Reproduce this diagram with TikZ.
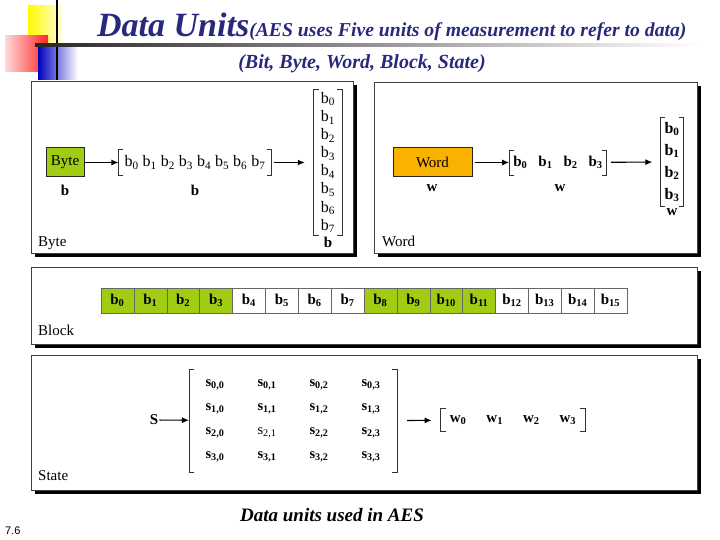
\documentclass[tikz,border=0pt]{standalone}
\usepackage{fontspec}
\setmainfont{Liberation Serif}
\newfontfamily\pagefont{Liberation Sans}
\usetikzlibrary{arrows.meta,positioning,shadows,matrix}
\definecolor{titleblue}{RGB}{40,40,125}
\definecolor{bytegreen}{RGB}{160,204,20}
\definecolor{wordorange}{RGB}{250,178,0}
\newcommand{\bb}[1]{b\textsubscript{#1}}
\newcommand{\ww}[1]{w\textsubscript{#1}}
\newcommand{\sij}[2]{\textbf{s\textsubscript{#1,#2}}}
\newcommand{\brk}[1]{%
  \draw[brkline] ([xshift=5pt]#1.north west) -| (#1.south west) -- ([xshift=5pt]#1.south west);
  \draw[brkline] ([xshift=-5pt]#1.north east) -| (#1.south east) -- ([xshift=-5pt]#1.south east);}

\tikzset{
  panel/.style={draw=black!75, line width=0.6pt, fill=white, inner sep=0pt,
    drop shadow={fill=black, opacity=1, shadow xshift=4pt, shadow yshift=-4pt}},
  box/.style={draw=black!85, line width=1pt, minimum height=29pt, inner sep=0pt,
    font=\fontsize{15}{16}\selectfont},
  lbl/.style={font=\fontsize{15}{16}\selectfont, inner sep=1pt},
  unit/.style={font=\fontsize{15}{16}\selectfont\bfseries, inner sep=1pt},
  arr/.style={-{Latex[length=7pt,width=6pt]}, line width=1.1pt},
  brkline/.style={line width=0.8pt, draw=black!80},
  cell/.style={draw=black!60, line width=0.5pt, minimum width=32.875pt,
    minimum height=25pt, inner sep=0pt, font=\fontsize{15}{16}\selectfont\bfseries},
}

\begin{document}
\begin{tikzpicture}[x=1pt, y=-1pt]
\useasboundingbox (0,0) rectangle (720,540);

% corner marks
\shade[left color=yellow!95!orange, right color=yellow!15] (28,6) rectangle (62,48);
\shade[left color=red!15, right color=red!85] (5,36) rectangle (48,72);
\shade[left color=blue!75!black, right color=white] (38,46) rectangle (78,80);
\draw[line width=1.5pt] (57,0) -- (57,80);
\shade[left color=black!85, right color=white] (35,44) rectangle (700,47);

\node[anchor=base west, inner sep=0pt, text=titleblue, font=\bfseries\itshape] (title) at (97,37)
  {{\fontsize{34}{34}\selectfont Data Units}{\fontsize{19.7}{20}\selectfont(AES uses Five units of measurement to refer to data)}};
\node[anchor=base, inner sep=0pt, text=titleblue, font=\bfseries\itshape\fontsize{20}{20}\selectfont] (subtitle) at (362,69)
  {(Bit, Byte, Word, Block, State)};

% panels
\node[panel, minimum width=322pt, minimum height=172pt] (bytepanel) at (192,167) {};
\node[panel, minimum width=323pt, minimum height=171pt] (wordpanel) at (535.5,167.5) {};
\node[panel, minimum width=666pt, minimum height=77pt] (blockpanel) at (364,305.5) {};
\node[panel, minimum width=666pt, minimum height=135pt] (statepanel) at (364,422.5) {};

% byte
\node[box, fill=bytegreen, minimum width=38pt] (bytein) at (65,162.5) {Byte};
\node[lbl, font=\fontsize{16}{17}\selectfont, inner xsep=6pt, inner ysep=6pt] (byterow) at (195,162.5)
  {\bb0 \bb1 \bb2 \bb3 \bb4 \bb5 \bb6 \bb7};
\node[lbl, align=center, font=\fontsize{16}{18.1}\selectfont, inner xsep=7pt, inner ysep=3pt] (bytecol) at (328,162.5)
  {\bb0\\\bb1\\\bb2\\\bb3\\\bb4\\\bb5\\\bb6\\\bb7};
\brk{byterow}
\brk{bytecol}
\draw[arr] (bytein) -- (byterow);
\draw[arr, shorten <=2pt, shorten >=9pt] (byterow) -- (bytecol);
\node[unit] (byteb1) at (65,190) {b};
\node[unit] (byteb2) at (195,190) {b};
\node[unit, below=0pt of bytecol] (byteb3) {b};
\node[lbl, anchor=base west] (bytename) at (37,246) {Byte};

% word
\node[box, fill=wordorange, minimum width=79pt] (wordin) at (432.5,162.5) {Word};
\node[unit, inner xsep=4pt, inner ysep=6pt] (wordrow) at (558,162.5)
  {\bb0\hspace{11pt}\bb1\hspace{11pt}\bb2\hspace{11pt}\bb3};
\node[unit, align=center, font=\fontsize{16}{22}\selectfont\bfseries, inner xsep=4pt, inner ysep=4pt] (wordcol) at (672,162)
  {\bb0\\\bb1\\\bb2\\\bb3};
\brk{wordrow}
\brk{wordcol}
\draw[arr, shorten <=2pt] (wordin) -- (wordrow);
\draw[arr, shorten <=4pt, shorten >=8pt] (wordrow) -- (wordcol);
\node[unit] (wordw1) at (432,188) {w};
\node[unit] (wordw2) at (560,188) {w};
\node[unit, below=1pt of wordcol] (wordw3) {w};
\node[lbl, anchor=base west] (wordname) at (381,246) {Word};

% block
\foreach \i in {0,...,15}{
  \pgfmathtruncatemacro{\q}{\i/4}
  \ifodd\q \def\cellcol{white}\else \def\cellcol{bytegreen}\fi
  \node[cell, fill=\cellcol] (c\i) at ({117.44+32.875*\i},300.5) {\bb{\i}};
}
\node[lbl, anchor=base west] (blockname) at (37,335) {Block};

% state
\node[unit] (sin) at (154,420) {S};
\matrix (smat) [matrix of nodes, column sep=7pt,
  nodes={minimum width=45pt, minimum height=24pt, inner sep=0pt, font=\fontsize{14.5}{15}\selectfont}]
  at (293,421) {
  \sij00 & \sij01 & \sij02 & \sij03 \\
  \sij10 & \sij11 & \sij12 & \sij13 \\
  \sij20 & s\textsubscript{2,1} & \sij22 & \sij23 \\
  \sij30 & \sij31 & \sij32 & \sij33 \\
};
\brk{smat}
\node[unit, inner xsep=9pt, inner ysep=7pt] (wrow) at (513,420)
  {\ww0\hspace{20pt}\ww1\hspace{20pt}\ww2\hspace{20pt}\ww3};
\brk{wrow}
\draw[arr] (sin) -- (smat);
\draw[arr, shorten <=10pt, shorten >=9pt] (smat) -- (wrow);
\node[lbl, anchor=base west] (statename) at (37,480) {State};

% caption
\node[anchor=base, inner sep=0pt, font=\bfseries\itshape\fontsize{19}{20}\selectfont] (caption) at (332,521)
  {Data units used in AES};
\node[anchor=base west, inner sep=0pt, font=\pagefont\fontsize{11}{12}\selectfont] (pagenum) at (5,534) {7.6};
\end{tikzpicture}
\end{document}
